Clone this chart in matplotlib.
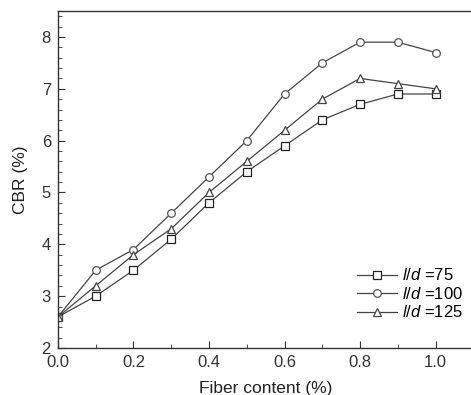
import matplotlib
matplotlib.use("Agg")
import matplotlib.pyplot as plt
from matplotlib.ticker import MultipleLocator

plt.rcParams["font.family"] = "Liberation Sans"
plt.rcParams["mathtext.fontset"] = "custom"
plt.rcParams["mathtext.it"] = "Liberation Sans:italic"
plt.rcParams["mathtext.rm"] = "Liberation Sans"

fiber = [0.0, 0.1, 0.2, 0.3, 0.4, 0.5, 0.6, 0.7, 0.8, 0.9, 1.0]
cbr75 = [2.6, 3.0, 3.5, 4.1, 4.8, 5.4, 5.9, 6.4, 6.7, 6.9, 6.9]
cbr100 = [2.6, 3.5, 3.9, 4.6, 5.3, 6.0, 6.9, 7.5, 7.9, 7.9, 7.7]
cbr125 = [2.6, 3.2, 3.8, 4.3, 5.0, 5.6, 6.2, 6.8, 7.2, 7.1, 7.0]
labels = [r"$\mathit{l/d}$ =75", r"$\mathit{l/d}$ =100", r"$\mathit{l/d}$ =125"]

fig = plt.figure(figsize=(4.71, 3.95), dpi=100)
ax = fig.add_axes([0.123, 0.119, 0.882, 0.853])

line_kw = dict(color="#444444", lw=0.9, mfc="white", ms=5.5, mew=0.9)
ax.plot(fiber, cbr75, marker="s", mec="#222222", label=labels[0], **line_kw)
ax.plot(fiber, cbr100, marker="o", mec="#555555", label=labels[1], **line_kw)
ax.plot(fiber, cbr125, marker="^", mec="#444444", label=labels[2], **line_kw)

ax.set_xlim(0, 1.1)
ax.set_ylim(2, 8.5)
ax.xaxis.set_major_locator(MultipleLocator(0.2))
ax.xaxis.set_minor_locator(MultipleLocator(0.1))
ax.yaxis.set_major_locator(MultipleLocator(1))
ax.yaxis.set_minor_locator(MultipleLocator(0.2))
ax.tick_params(which="both", direction="in", labelsize=12, colors="#333333")
ax.tick_params(which="major", length=5, pad=5)
ax.tick_params(which="minor", length=3)
for s in ax.spines.values():
    s.set_color("#333333")
    s.set_linewidth(1.0)
ax.spines["right"].set_visible(False)

ax.set_xlabel("Fiber content (%)", fontsize=12.5, color="#222222", labelpad=8)
ax.set_ylabel("CBR (%)", fontsize=12.5, color="#222222", labelpad=10)

ax.legend(loc="lower right", bbox_to_anchor=(1.0, 0.052), frameon=False,
          fontsize=12, handlelength=2.4, handletextpad=0.3, labelspacing=0.15,
          borderaxespad=0.2)

fig.savefig("out.png", dpi=100)
